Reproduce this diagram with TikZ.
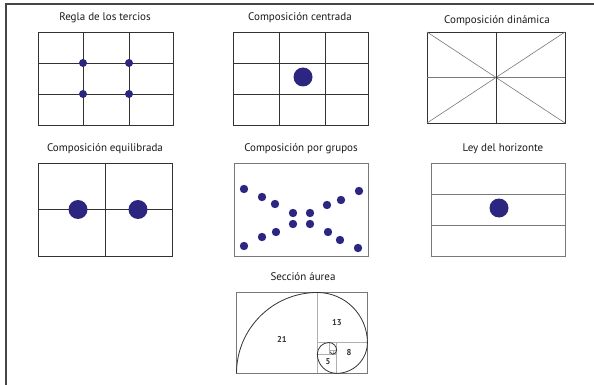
\documentclass[tikz,border=0pt]{standalone}
\usepackage{fontspec}
\setsansfont{PT Sans}
\usepackage{tikz}
\usetikzlibrary{positioning}
\definecolor{dotblue}{RGB}{44,38,128}
\definecolor{gridgray}{RGB}{50,50,50}
\definecolor{framegray}{RGB}{70,70,70}
\definecolor{lightline}{RGB}{175,175,175}
\definecolor{midline}{RGB}{120,120,120}
\tikzset{
  title/.style={font=\sffamily\fontsize{11}{13}\selectfont,inner sep=1pt,text=black!90},
  panel/.style={draw=gridgray,line width=0.8pt},
  gridline/.style={draw=gridgray,line width=0.7pt},
  diagline/.style={draw=midline,line width=0.6pt},
  bigdot/.style={fill=dotblue},
  smalldot/.style={fill=dotblue},
  fibline/.style={draw=lightline,line width=0.5pt},
  fibnum/.style={font=\sffamily\bfseries\fontsize{8.5}{10}\selectfont,text=black!80}
}
\begin{document}
\begin{tikzpicture}[x=1pt,y=-1pt]
\useasboundingbox (0,0) rectangle (594,385);
% outer frame
\draw[framegray,line width=1.6pt] (594,4) -- (6,4) -- (6,385);
% titles
\node[title] (tercios) at (105,18) {Regla de los tercios};
\node[title] (centrada) at (300,18) {Composición centrada};
\node[title] (dinamica) at (497,21) {Composición dinámica};
\node[title] (equilibrada) at (105,149) {Composición equilibrada};
\node[title] (grupos) at (301,149) {Composición por grupos};
\node[title] (horizonte) at (503,149) {Ley del horizonte};
\node[title] (aurea) at (303,277) {Sección áurea};
% regla de los tercios
\draw[panel] (38,32) rectangle (173,125);
\draw[gridline] (83,32) -- (83,125) (129,32) -- (129,125)
  (38,63) -- (173,63) (38,94) -- (173,94);
\foreach \px in {83,129}
  \foreach \py in {63,94}
    \fill[smalldot] (\px,\py) circle[radius=4];
% composicion centrada
\draw[panel] (233,32) rectangle (368,125);
\draw[gridline] (279,32) -- (279,125) (325,32) -- (325,125)
  (233,63) -- (368,63) (233,94) -- (368,94);
\fill[bigdot] (303,77) circle[radius=9.5];
% composicion dinamica
\draw[panel] (427,32) rectangle (565,123);
\draw[diagline] (427,32) -- (565,123) (565,32) -- (427,123) (427,77.5) -- (565,77.5);
\draw[gridline,line width=1pt] (496,32) -- (496,123);
% composicion equilibrada
\draw[panel] (38,163) rectangle (172,256);
\draw[gridline] (105,163) -- (105,256) (38,209.5) -- (172,209.5);
\foreach \px in {78,138}
  \fill[bigdot] (\px,209.5) circle[radius=9.5];
% composicion por grupos
\draw[panel,draw=midline] (234,163) rectangle (368,256);
\foreach \px/\py in {244/189,262/197,275/204,293/213,310/213,327/205,341/200,359/191,
  244/246,262/237,276/232,293/224,310/224,328/232,340/240,358/248}
  \fill[smalldot] (\px,\py) circle[radius=4.2];
% ley del horizonte
\draw[panel,draw=midline] (431,163) rectangle (565,256);
\draw[gridline,draw=midline] (431,194) -- (565,194) (431,225) -- (565,225);
\fill[bigdot] (499,208) circle[radius=9.5];
% seccion aurea
\begin{scope}[shift={(236.5,292.5)},x=3.85pt,y=-3.85pt]
  \draw[fibline] (21,0) -- (21,21) (21,13) -- (34,13) (26,13) -- (26,21)
    (21,16) -- (26,16) (24,13) -- (24,16) (24,15) -- (26,15) (25,15) -- (25,16);
  \draw[panel,draw=midline,line width=0.7pt] (0,0) rectangle (34,21);
  \draw[black!80,line width=0.8pt] (0,21) arc[start angle=180,end angle=270,radius=21]
    arc[start angle=270,end angle=360,radius=13]
    arc[start angle=0,end angle=90,radius=8]
    arc[start angle=90,end angle=180,radius=5]
    arc[start angle=180,end angle=270,radius=3]
    arc[start angle=270,end angle=360,radius=2]
    arc[start angle=0,end angle=90,radius=1]
    arc[start angle=90,end angle=180,radius=0.6];
  \node[fibnum] (n21) at (11.8,12.1) {21};
  \node[fibnum] (n13) at (26.1,7.9) {13};
  \node[fibnum] (n8) at (29.2,15.7) {8};
  \node[fibnum] (n5) at (23.8,18.05) {5};
\end{scope}
\end{tikzpicture}
\end{document}
